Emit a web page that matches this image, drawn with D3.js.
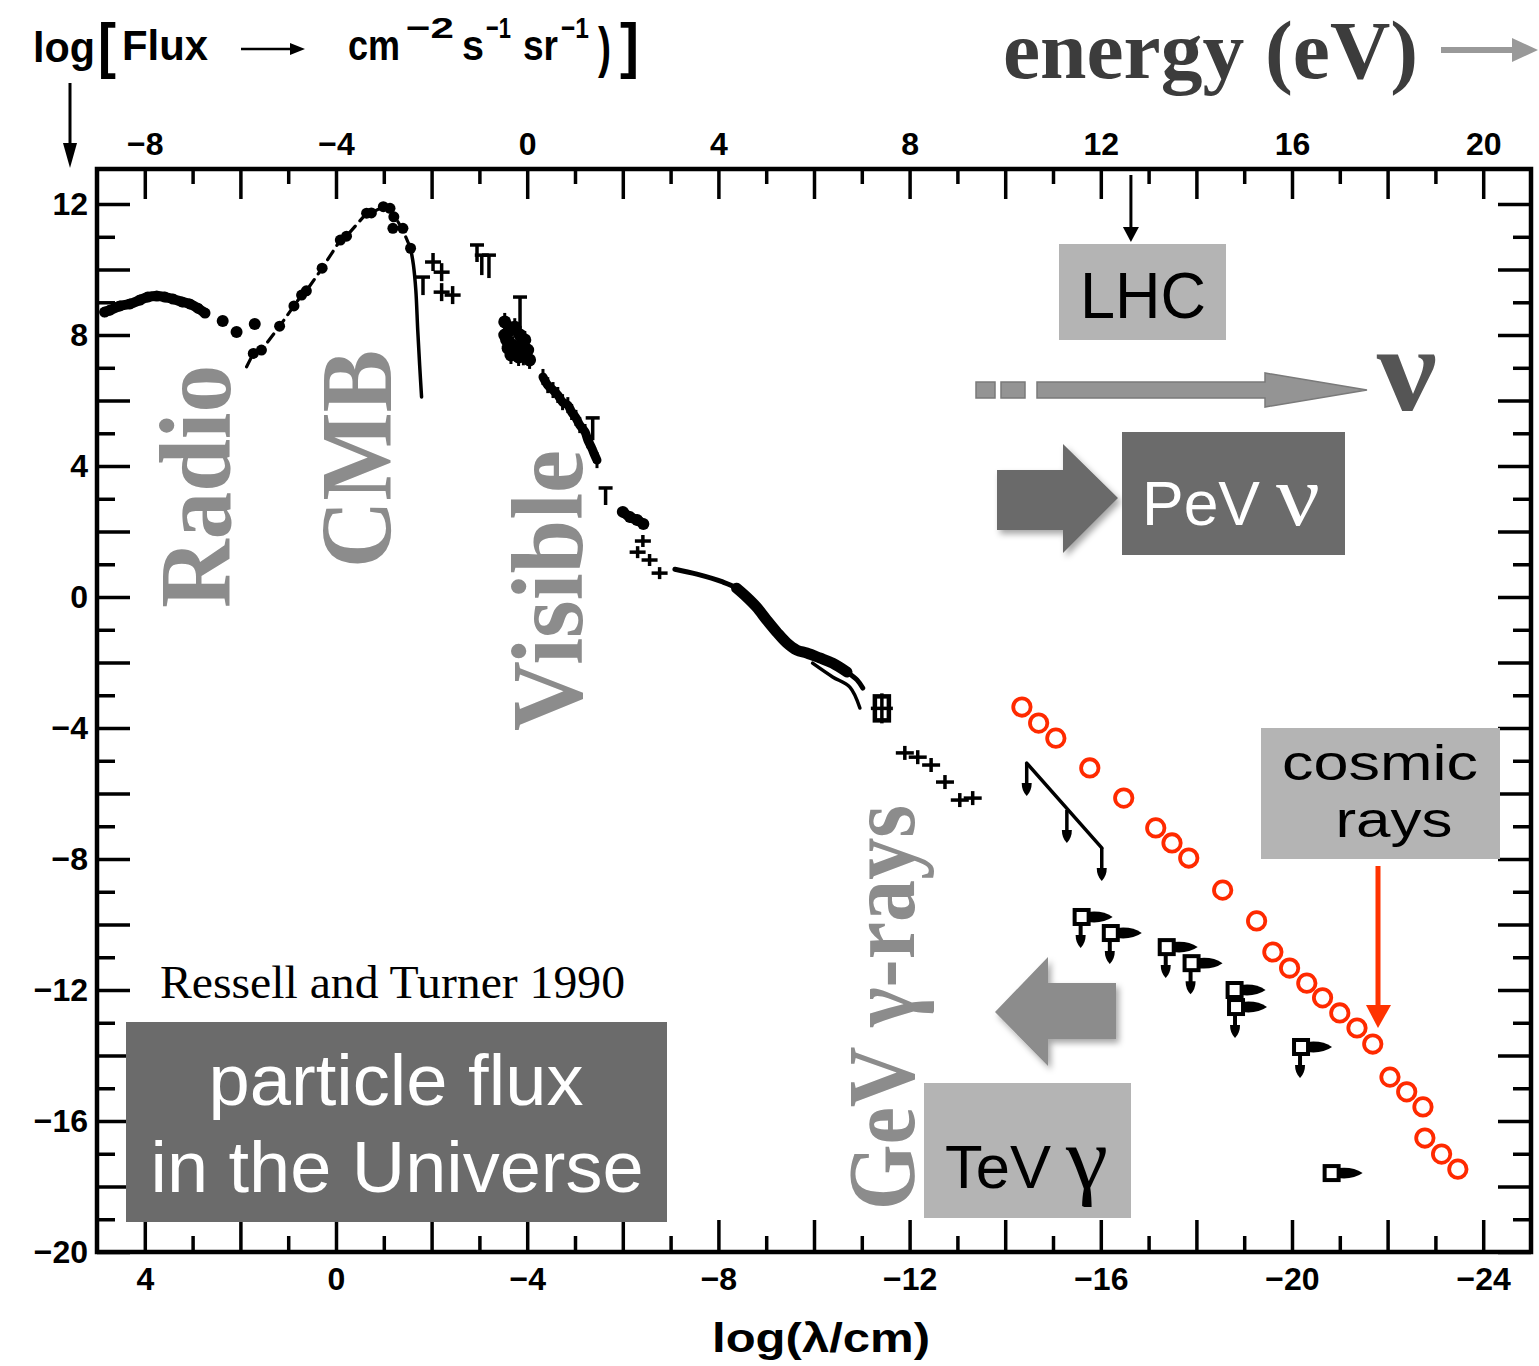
<!DOCTYPE html>
<html>
<head>
<meta charset="utf-8">
<script src="https://cdn.jsdelivr.net/npm/d3@7"></script>
<style>
  html, body { margin: 0; padding: 0; background: #fff; }
  svg { display: block; }
</style>
</head>
<body>
<svg id="chart" width="1539" height="1366"></svg>
<script>
// Diffuse particle flux across the spectrum, log10(wavelength / cm) vs log10(flux / cm^-2 s^-1 sr^-1)

// radio background: dense band and a few isolated points
const radioBand = [[4.84,8.70],[4.73,8.76],[4.52,8.89],[4.31,8.95],[4.10,9.07],[3.94,9.16],[3.75,9.19],[3.58,9.16],[3.41,9.10],[3.22,9.01],[3.06,8.95],[2.89,8.82],[2.74,8.67]];
const radioDots = [[2.37,8.43],[2.08,8.09],[1.70,8.34]];

// cosmic microwave background: measured points, dashed fit, Wien tail
const cmbLine = [[1.87,7.03],[1.73,7.44],[1.56,7.54],[1.18,8.27],[0.88,8.89],[0.72,9.22],[0.62,9.35],[0.29,10.04],[-0.09,10.90],[-0.22,11.02],[-0.64,11.72],[-0.74,11.73],[-0.99,11.92],[-1.13,11.87],[-1.26,11.55],[-1.40,11.20],[-1.56,10.65]];
const cmbDots = [[1.73,7.44],[1.56,7.54],[1.18,8.27],[0.88,8.89],[0.72,9.22],[0.62,9.35],[0.29,10.04],[-0.09,10.90],[-0.22,11.02],[-0.64,11.72],[-0.74,11.73],[-0.99,11.92],[-1.13,11.87],[-1.21,11.61],[-1.19,11.26],[-1.40,11.26],[-1.56,10.65]];
const cmbTail = [[-1.56,10.65],[-1.62,10.14],[-1.67,9.37],[-1.71,8.15],[-1.75,7.08],[-1.79,6.11]];

// infrared: detections (crosses) and upper limits [logλ, top, bottom]
const irCross = [[-2.03,10.23],[-2.21,9.92],[-2.21,9.31],[-2.44,9.22]];
const upperLimits = [[-1.82,9.77,9.22],[-2.95,10.75,10.23],[-3.05,10.44,9.83],[-3.20,10.44,9.74],[-3.85,9.16,8.15],[-5.37,5.47,4.79],[-5.64,3.33,2.81]];

// near infrared / optical / ultraviolet
const nirCluster = [[-3.53,8.40],[-3.64,8.15],[-3.74,8.24],[-3.85,8.00],[-3.57,7.85],[-3.70,7.69],[-3.89,7.69],[-4.01,7.54],[-3.66,7.39],[-3.82,7.33],[-4.05,7.24],[-3.53,8.00],[-3.95,7.85],[-3.60,7.60],[-3.78,7.50],[-3.92,7.35]];
const optical = [[-4.33,6.72],[-4.43,6.47],[-4.54,6.32],[-4.64,6.17],[-4.74,5.95],[-4.85,5.86],[-4.93,5.65],[-5.02,5.47],[-5.10,5.25],[-5.21,5.04],[-5.27,4.79],[-5.35,4.55],[-5.41,4.34],[-5.46,4.18]];
const uvCluster = [[-6.00,2.60],[-6.15,2.44],[-6.30,2.35],[-6.43,2.23]];
const uvCross = [[-6.42,1.71],[-6.31,1.37],[-6.56,1.13],[-6.77,0.73]];

// X-ray background
const xray = [[-7.09,0.85],[-7.55,0.70],[-8.09,0.46],[-8.38,0.27],[-8.59,0.00],[-8.80,-0.31],[-9.01,-0.70],[-9.22,-1.07],[-9.43,-1.40],[-9.64,-1.62],[-9.85,-1.71],[-10.12,-1.86],[-10.39,-2.02],[-10.69,-2.29],[-10.90,-2.53],[-11.02,-2.78]];
const xrayDense = [[-8.38,0.27],[-8.59,0.00],[-8.80,-0.31],[-9.01,-0.70],[-9.22,-1.07],[-9.43,-1.40],[-9.64,-1.62],[-9.85,-1.71],[-10.12,-1.86],[-10.39,-2.02],[-10.69,-2.29]];
const xrayLower = [[-9.97,-2.02],[-10.39,-2.44],[-10.75,-2.75],[-10.96,-3.39]];

// gamma rays
const gammaBox = [[-11.42,-3.40]];
const gammaCross = [[-11.90,-4.76],[-12.17,-4.89],[-12.45,-5.13],[-12.74,-5.65],[-13.05,-6.20],[-13.32,-6.14]];
const tevLine = [[-14.45,-5.07],[-16.02,-7.66]];
const tevDrops = [[-14.45,-5.07],[-15.29,-6.50],[-16.02,-7.66]];
// upper limits at the highest energies: [logλ, logFlux, hasArrow]
const gammaLimits = [[-15.62,-9.77,1],[-16.23,-10.26,1],[-17.40,-10.69,1],[-17.92,-11.18,1],[-18.82,-12.00,0],[-18.85,-12.52,1],[-20.21,-13.74,1],[-20.85,-17.59,0]];

// cosmic-ray flux
const cosmicRays = [[-14.35,-3.36],[-14.70,-3.85],[-15.06,-4.31],[-15.77,-5.22],[-16.48,-6.14],[-17.15,-7.05],[-17.49,-7.51],[-17.84,-7.97],[-18.55,-8.95],[-19.26,-9.89],[-19.60,-10.84],[-19.95,-11.33],[-20.31,-11.79],[-20.64,-12.24],[-21.00,-12.70],[-21.36,-13.16],[-21.69,-13.65],[-22.05,-14.66],[-22.40,-15.11],[-22.74,-15.57],[-22.78,-16.52],[-23.13,-17.01],[-23.47,-17.47]];

// axes
const lambdaTicks = d3.range(-24, 5);
const lambdaLabels = [4, 0, -4, -8, -12, -16, -20, -24];
const energyTicks = d3.range(-8, 21);
const energyLabels = [-8, -4, 0, 4, 8, 12, 16, 20];
const fluxTicks = d3.range(-20, 13);
const fluxLabels = [12, 8, 4, 0, -4, -8, -12, -16, -20];

const svg = d3.select("#chart");
const SANS = "'Liberation Sans', Arial, Helvetica, sans-serif";
const SERIF = "'Liberation Serif', 'Times New Roman', Times, serif";

const x = d3.scaleLinear().domain([5, -25]).range([97, 1531]);
const en = d3.scaleLinear().domain([-9, 21]).range([97, 1531]);
const y = d3.scaleLinear().domain([13.07, -20]).range([169, 1252]);

const defs = svg.append("defs");
defs.append("filter").attr("id", "shadow").attr("x", "-30%").attr("y", "-30%").attr("width", "160%").attr("height", "160%")
  .append("feDropShadow").attr("dx", 3).attr("dy", 4).attr("stdDeviation", 3)
  .attr("flood-color", "#000").attr("flood-opacity", 0.35);

const fmt = d => d < 0 ? "\u2212" + Math.abs(d) : String(d);

// ---- region labels (behind the data) ----
const bigLabels = [
  {t: "Radio", bx: 230, by: 608, len: 243, size: 102},
  {t: "CMB", bx: 391, by: 568, len: 218, size: 102},
  {t: "Visible", bx: 582, by: 731, len: 281, size: 102},
  {t: "GeV \u03b3-rays", bx: 914, by: 1210, len: 405, size: 96}
];
svg.append("g").selectAll("text").data(bigLabels).join("text")
  .attr("transform", d => `translate(${d.bx},${d.by}) rotate(-90)`)
  .attr("font-family", SERIF).attr("font-weight", "bold")
  .attr("font-size", d => d.size).attr("fill", "#8c8c8c")
  .attr("textLength", d => d.len).attr("lengthAdjust", "spacingAndGlyphs")
  .text(d => d.t);

// ---- frame and axes ----
svg.append("rect").attr("x", 97).attr("y", 169).attr("width", 1434).attr("height", 1083)
  .attr("fill", "none").attr("stroke", "#000").attr("stroke-width", 4.5);

function styleAxis(g) {
  g.select(".domain").remove();
  g.selectAll(".tick line").attr("stroke", "#000").attr("stroke-width", 3.5);
  g.selectAll(".tick text").attr("font-family", SANS).attr("font-weight", "bold")
    .attr("font-size", 32).attr("fill", "#000");
}
const even = d => d % 2 === 0;

svg.append("g").attr("transform", "translate(0,169)")
  .call(d3.axisTop(en).tickValues(energyTicks).tickSize(-32).tickPadding(14)
    .tickFormat(d => energyLabels.includes(d) ? fmt(d) : ""))
  .call(styleAxis)
  .selectAll(".tick line").attr("y2", d => even(d) ? 30 : 15);

svg.append("g").attr("transform", "translate(0,1252)")
  .call(d3.axisBottom(x).tickValues(lambdaTicks).tickSize(-32).tickPadding(15)
    .tickFormat(d => lambdaLabels.includes(d) ? fmt(d) : ""))
  .call(styleAxis)
  .selectAll(".tick line").attr("y2", d => even(d) ? -32 : -16);

svg.append("g").attr("transform", "translate(97,0)")
  .call(d3.axisLeft(y).tickValues(fluxTicks).tickSize(-32).tickPadding(9)
    .tickFormat(d => fluxLabels.includes(d) ? fmt(d) : ""))
  .call(styleAxis)
  .selectAll(".tick line").attr("x2", d => even(d) ? 33 : 18);

svg.append("g").attr("transform", "translate(1531,0)")
  .call(d3.axisRight(y).tickValues(fluxTicks).tickSize(-32).tickFormat(""))
  .call(styleAxis)
  .selectAll(".tick line").attr("x2", d => even(d) ? -33 : -18);

// ---- data ----
const data = svg.append("g");
const line = d3.line().x(d => x(d[0])).y(d => y(d[1]));
const smooth = d3.line().x(d => x(d[0])).y(d => y(d[1])).curve(d3.curveCatmullRom);

function path(pts, gen, w, extra) {
  const p = data.append("path").datum(pts).attr("d", gen).attr("fill", "none")
    .attr("stroke", "#000").attr("stroke-width", w)
    .attr("stroke-linecap", "round").attr("stroke-linejoin", "round");
  if (extra) extra(p);
  return p;
}
function dots(pts, r) {
  data.append("g").selectAll("circle").data(pts).join("circle")
    .attr("cx", d => x(d[0])).attr("cy", d => y(d[1])).attr("r", r).attr("fill", "#000");
}
function crosses(pts, hw, hh) {
  const g = data.append("g").attr("stroke", "#000").attr("stroke-width", 3.5);
  g.selectAll("line.h").data(pts).join("line").attr("class", "h")
    .attr("x1", d => x(d[0]) - hw).attr("x2", d => x(d[0]) + hw)
    .attr("y1", d => y(d[1])).attr("y2", d => y(d[1]));
  g.selectAll("line.v").data(pts).join("line").attr("class", "v")
    .attr("x1", d => x(d[0])).attr("x2", d => x(d[0]))
    .attr("y1", d => y(d[1]) - hh).attr("y2", d => y(d[1]) + hh);
}
function vbars(pts, hh) {
  data.append("g").attr("stroke", "#000").attr("stroke-width", 3)
    .selectAll("line").data(pts).join("line")
    .attr("x1", d => x(d[0])).attr("x2", d => x(d[0]))
    .attr("y1", d => y(d[1]) - hh).attr("y2", d => y(d[1]) + hh);
}

// radio
path(radioBand, smooth, 10);
dots(radioBand, 5.5);
dots(radioDots, 6);

// CMB
path(cmbLine, line, 3.2, p => p.attr("stroke-dasharray", "10 7"));
dots(cmbDots, 5.5);
path(cmbTail, smooth, 3.5);

// infrared
crosses(irCross, 8, 9);
const ul = data.append("g").attr("stroke", "#000").attr("stroke-width", 3.5);
ul.selectAll("line.v").data(upperLimits).join("line").attr("class", "v")
  .attr("x1", d => x(d[0])).attr("x2", d => x(d[0]))
  .attr("y1", d => y(d[1])).attr("y2", d => y(d[2]));
ul.selectAll("line.h").data(upperLimits).join("line").attr("class", "h")
  .attr("x1", d => x(d[0]) - 7).attr("x2", d => x(d[0]) + 7)
  .attr("y1", d => y(d[1])).attr("y2", d => y(d[1]));

// near infrared, optical, ultraviolet
dots(nirCluster, 6.5);
vbars(nirCluster, 9);
path(optical, smooth, 9);
vbars(optical, 8);
path(uvCluster, smooth, 10);
dots(uvCluster, 6);
crosses(uvCross, 8, 6);

// X-ray background
path(xray, smooth, 5);
path(xrayDense, smooth, 11);
path(xrayLower, smooth, 3.5);

// gamma rays
data.append("g").selectAll("rect").data(gammaBox).join("rect")
  .attr("x", d => x(d[0]) - 7).attr("y", d => y(d[1]) - 12)
  .attr("width", 14).attr("height", 24)
  .attr("fill", "#fff").attr("stroke", "#000").attr("stroke-width", 4.5);
crosses(gammaBox, 11, 15);
crosses(gammaCross, 9, 7);

path(tevLine, line, 3.5);
const drop = data.append("g");
drop.selectAll("line").data(tevDrops).join("line")
  .attr("x1", d => x(d[0])).attr("x2", d => x(d[0]))
  .attr("y1", d => y(d[1])).attr("y2", d => y(d[1]) + 24)
  .attr("stroke", "#000").attr("stroke-width", 3.5);
drop.selectAll("path").data(tevDrops).join("path")
  .attr("d", d => { const cx = x(d[0]), cy = y(d[1]) + 20;
    return `M${cx - 5},${cy} Q${cx - 5},${cy + 8} ${cx},${cy + 13} Q${cx + 5},${cy + 8} ${cx + 5},${cy} Z`; })
  .attr("fill", "#000");

const gl = data.append("g").selectAll("g").data(gammaLimits).join("g")
  .attr("transform", d => `translate(${x(d[0])},${y(d[1])})`);
gl.append("path").attr("d", "M5,-5 Q20,-7 30,0 Q20,7 5,5 Z").attr("fill", "#000");
gl.filter(d => d[2] === 1).append("line")
  .attr("x1", -2).attr("x2", -2).attr("y1", 7).attr("y2", 21)
  .attr("stroke", "#000").attr("stroke-width", 4);
gl.filter(d => d[2] === 1).append("path")
  .attr("d", "M-7,18 Q-7,26 -2,31 Q3,26 3,18 Z").attr("fill", "#000");
gl.append("rect").attr("x", -8).attr("y", -7).attr("width", 14).attr("height", 14)
  .attr("fill", "#fff").attr("stroke", "#000").attr("stroke-width", 4);

// cosmic rays
data.append("g").selectAll("circle").data(cosmicRays).join("circle")
  .attr("cx", d => x(d[0])).attr("cy", d => y(d[1])).attr("r", 8.7)
  .attr("fill", "none").attr("stroke", "#ff2a00").attr("stroke-width", 3.8);

// ---- titles ----
function txt(t, px, py, size, opts = {}) {
  const el = svg.append("text").attr("x", px).attr("y", py)
    .attr("font-family", opts.family || SANS).attr("font-size", size)
    .attr("font-weight", opts.weight || "normal").attr("fill", opts.fill || "#000")
    .attr("text-anchor", opts.anchor || "start").text(t);
  if (opts.len) el.attr("textLength", opts.len).attr("lengthAdjust", "spacingAndGlyphs");
  return el;
}
const B = {weight: "bold"};
txt("log", 33, 62, 42, {...B, len: 62});
txt("[", 98, 66, 62, {...B, len: 18});
txt("Flux", 122, 60, 42, {...B, len: 86});
svg.append("line").attr("x1", 241).attr("x2", 292).attr("y1", 49).attr("y2", 49).attr("stroke", "#000").attr("stroke-width", 2.5);
svg.append("path").attr("d", "M290,43 L305,49 L290,55 Z").attr("fill", "#000");
txt("cm", 348, 60, 42, {...B, len: 52});
txt("\u22122", 406, 38, 30, {...B, len: 48});
txt("s", 462, 60, 42, {...B, len: 22});
txt("\u22121", 486, 38, 30, {...B, len: 25});
txt("sr", 523, 60, 42, {...B, len: 35});
txt("\u22121", 561, 38, 30, {...B, len: 28});
txt(")", 598, 66, 56, {...B, len: 13});
txt("]", 620, 66, 62, {...B, len: 19});
svg.append("line").attr("x1", 70).attr("x2", 70).attr("y1", 83).attr("y2", 150).attr("stroke", "#000").attr("stroke-width", 3);
svg.append("path").attr("d", "M63,143 L77,143 L70,168 Z").attr("fill", "#000");

txt("energy (eV)", 1003, 78, 82, {family: SERIF, weight: "bold", fill: "#3c3c3c", len: 415});
svg.append("line").attr("x1", 1441).attr("x2", 1515).attr("y1", 50).attr("y2", 50).attr("stroke", "#999").attr("stroke-width", 6);
svg.append("path").attr("d", "M1512,38 L1538,50 L1512,62 Z").attr("fill", "#999");

txt("log(\u03bb/cm)", 821, 1352, 40, {...B, anchor: "middle", len: 218});

// ---- annotations ----
const LIGHT = "#b4b4b4", DARK = "#6b6b6b";

// collider energy marker
const lhcX = en(12.63);
svg.append("line").attr("x1", lhcX).attr("x2", lhcX).attr("y1", 175).attr("y2", 232).attr("stroke", "#000").attr("stroke-width", 3);
svg.append("path").attr("d", `M${lhcX - 8},227 L${lhcX + 8},227 L${lhcX},242 Z`).attr("fill", "#000");
svg.append("rect").attr("x", 1059).attr("y", 244).attr("width", 167).attr("height", 96).attr("fill", LIGHT);
txt("LHC", 1143, 318, 64, {anchor: "middle", len: 126});

// neutrino arrow
const nu = svg.append("g").attr("fill", "#949494").attr("stroke", "#7a7a7a").attr("stroke-width", 1.5);
nu.append("rect").attr("x", 976).attr("y", 382).attr("width", 19).attr("height", 16);
nu.append("rect").attr("x", 1001).attr("y", 382).attr("width", 24).attr("height", 16);
nu.append("path").attr("d", "M1037,382 L1265,382 L1265,373 L1367,390 L1265,407 L1265,398 L1037,398 Z");
txt("\u03bd", 1377, 410, 120, {family: SERIF, weight: "bold", fill: "#555", len: 60});

svg.append("path").attr("d", "M997,470 L1063,470 L1063,444 L1118,498 L1063,553 L1063,530 L997,530 Z")
  .attr("fill", DARK).attr("filter", "url(#shadow)");
svg.append("rect").attr("x", 1122).attr("y", 432).attr("width", 223).attr("height", 123).attr("fill", DARK);
txt("PeV", 1142, 525, 63, {fill: "#fff", len: 118});
txt("\u03bd", 1276, 525, 86, {family: SERIF, fill: "#fff", len: 44});

// cosmic-ray label (two lines) and pointer
svg.append("rect").attr("x", 1261).attr("y", 728).attr("width", 239).attr("height", 131).attr("fill", LIGHT);
txt("cosmic", 1380, 780, 50, {anchor: "middle", len: 196});
txt("rays", 1394, 837, 50, {anchor: "middle", len: 117});
svg.append("line").attr("x1", 1378).attr("x2", 1378).attr("y1", 866).attr("y2", 1008).attr("stroke", "#ff3300").attr("stroke-width", 5);
svg.append("path").attr("d", "M1366,1005 L1391,1005 L1378,1028 Z").attr("fill", "#ff3300");

// TeV gamma label
svg.append("path").attr("d", "M1116,983 L1048,983 L1048,957 L995,1012 L1048,1066 L1048,1039 L1116,1039 Z")
  .attr("fill", "#8c8c8c").attr("filter", "url(#shadow)");
svg.append("rect").attr("x", 924).attr("y", 1083).attr("width", 207).attr("height", 135).attr("fill", LIGHT);
txt("TeV", 945, 1188, 62, {len: 106});
txt("\u03b3", 1066, 1188, 88, {family: SERIF, len: 42});

// source and caption
txt("Ressell and Turner 1990", 160, 998, 46, {family: SERIF, len: 465});
svg.append("rect").attr("x", 126).attr("y", 1022).attr("width", 541).attr("height", 200).attr("fill", DARK);
txt("particle flux", 396, 1105, 73, {fill: "#fff", anchor: "middle", len: 375});
txt("in the Universe", 397, 1192, 73, {fill: "#fff", anchor: "middle", len: 493});
</script>
</body>
</html>
